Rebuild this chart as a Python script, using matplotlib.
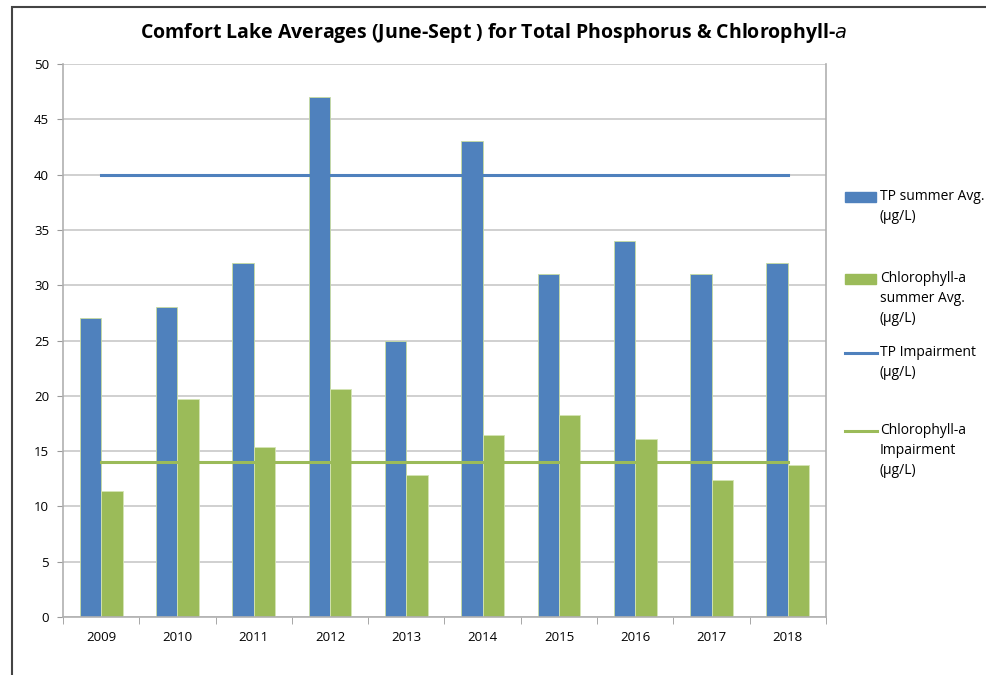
import numpy as np
import matplotlib

matplotlib.use("Agg")

import matplotlib.pyplot as plt
from matplotlib.patches import Rectangle
from matplotlib.lines import Line2D

years = ["2009", "2010", "2011", "2012", "2013", "2014", "2015", "2016", "2017", "2018"]
tp_avg = [27, 28, 32, 47, 25, 43, 31, 34, 31, 32]
chl_avg = [11.4, 19.7, 15.4, 20.6, 12.8, 16.5, 18.3, 16.1, 12.4, 13.7]
tp_impair = 40
chl_impair = 14

blue = "#4f81bd"
green = "#9bbb59"

plt.rcParams["font.family"] = ["Open Sans", "DejaVu Sans"]

W, H = 987, 675
fig = plt.figure(figsize=(W / 100, H / 100), dpi=100)
ax = fig.add_axes([63 / W, 1 - 617 / H, (826 - 63) / W, (617 - 64) / H])

x = np.arange(len(years))
w = 0.28
ax.bar(x - w / 2, tp_avg, w, color=blue, edgecolor="#c8dca0", linewidth=0.6, zorder=2)
ax.bar(x + w / 2, chl_avg, w, color=green, edgecolor="#d5e5b5", linewidth=0.6, zorder=2)
ax.plot([x[0], x[-1]], [tp_impair, tp_impair], color=blue, lw=2.2, zorder=3)
ax.plot([x[0], x[-1]], [chl_impair, chl_impair], color=green, lw=2.2, zorder=3)

ax.set_xlim(-0.5, len(years) - 0.5)
ax.set_ylim(0, 50)
ax.set_yticks(range(0, 51, 5))
ax.set_xticks(x)
ax.set_xticklabels(years)
ax.set_xticks(np.arange(-0.5, len(years), 1), minor=True)
ax.tick_params(axis="x", which="major", length=0, pad=10, labelsize=9.5)
ax.tick_params(axis="x", which="minor", length=5, color="#999999")
ax.tick_params(axis="y", length=4, color="#999999", labelsize=9.5, pad=6)
ax.grid(axis="y", color="#c8c8c8", lw=1.2, zorder=0)
for s in ["left", "bottom", "right"]:
    ax.spines[s].set_color("#b0b0b0")
    ax.spines[s].set_linewidth(1.2)
ax.spines["top"].set_visible(False)

fig.text(0.5, 1 - 33 / H, "Comfort Lake Averages (June-Sept ) for Total Phosphorus & Chlorophyll-$\\it{a}$",
         ha="center", va="center", fontsize=14, fontweight="bold")

# legend, drawn by hand so the key sits next to the first line of each label
legend_items = [
    ("patch", blue, ["TP summer Avg.", "(µg/L)"], 197),
    ("patch", green, ["Chlorophyll-a", "summer Avg.", "(µg/L)"], 279),
    ("line", blue, ["TP Impairment", "(µg/L)"], 353),
    ("line", green, ["Chlorophyll-a", "Impairment", "(µg/L)"], 431),
]
for kind, col, lines, ytop in legend_items:
    yf = 1 - ytop / H
    if kind == "patch":
        fig.patches.append(Rectangle((845 / W, yf - 5 / H), 31 / W, 10 / H,
                                     transform=fig.transFigure, color=col))
    else:
        fig.lines.append(Line2D([845 / W, 877 / W], [yf, yf], transform=fig.transFigure,
                                color=col, lw=2.2))
    fig.text(880 / W, yf, "\n".join(lines), ha="left", va="top", fontsize=10,
             linespacing=1.45, transform=fig.transFigure).set_y(yf + 8 / H)

# screenshot border
fig.patches.append(Rectangle((12 / W, -0.1), 1.2, 1 - 7 / H + 0.1, transform=fig.transFigure,
                             fill=False, edgecolor="#444444", lw=1.5))

fig.savefig("out.png", dpi=100)
